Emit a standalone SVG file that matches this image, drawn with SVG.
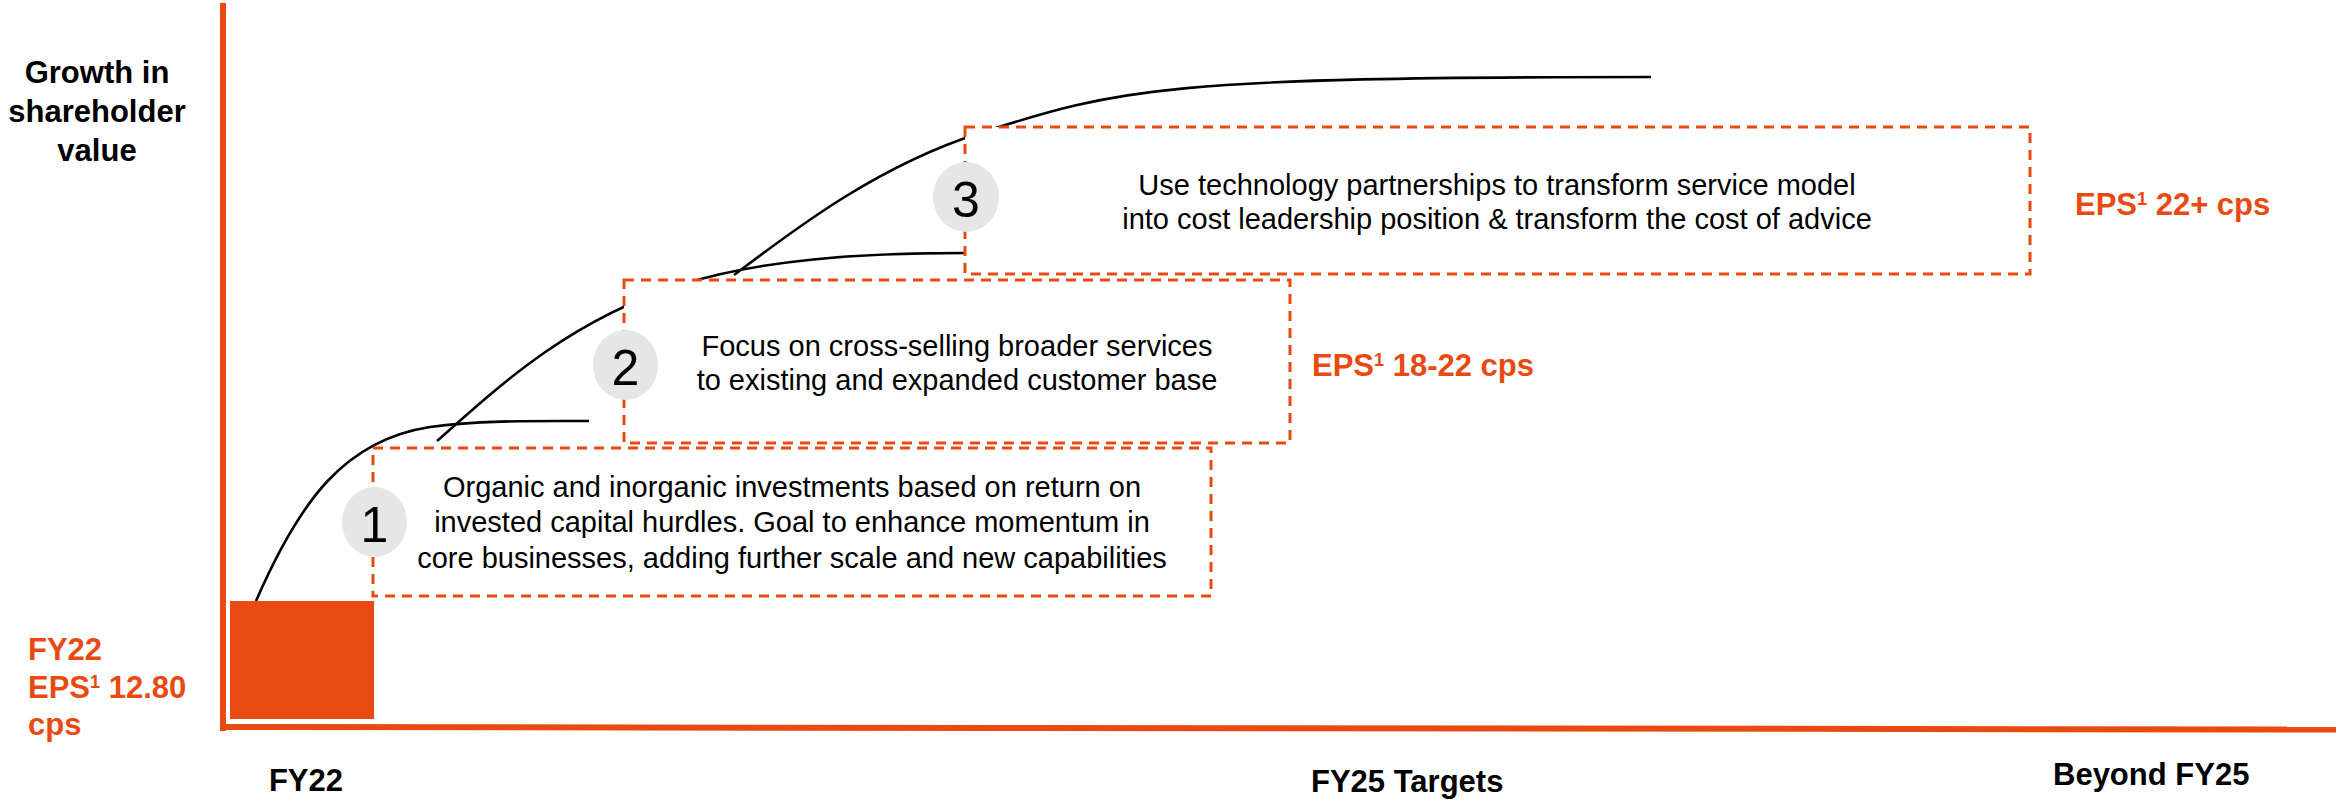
<svg xmlns="http://www.w3.org/2000/svg" width="2336" height="803" viewBox="0 0 2336 803">
  <style>
    .axis { stroke: #E84A12; stroke-width: 6; fill: none; }
    .curve { stroke: #000; stroke-width: 2.6; fill: none; stroke-linecap: butt; }
    .box { fill: #fff; stroke: #E84A12; stroke-width: 3; stroke-dasharray: 10 7; }
    .badge { fill: #E6E6E6; }
    .num { font-family: "Liberation Sans", Arial, sans-serif; font-size: 50px; fill: #000; text-anchor: middle; }
    .body { font-family: "Liberation Sans", Arial, sans-serif; font-size: 29px; fill: #000; text-anchor: middle; }
    .lbl { font-family: "Liberation Sans", Arial, sans-serif; font-size: 31px; font-weight: bold; fill: #000; }
    .eps { font-family: "Liberation Sans", Arial, sans-serif; font-size: 31px; font-weight: bold; fill: #E84A12; }
  </style>

  <rect width="2336" height="803" fill="#fff"/>

  <!-- axes -->
  <g id="axes">
    <line class="axis" x1="223" y1="3" x2="223" y2="731"/>
    <line class="axis" x1="220" y1="727" x2="2336" y2="729.5"/>
  </g>

  <!-- growth curves (drawn beneath the boxes) -->
  <g id="connectors">
    <path class="curve" d="M256,601 C300,500 345,440 430,427 C480,420 540,421 589,421"/>
    <path class="curve" d="M437,441 C500,385 570,320 680,285 C760,259.5 860,253 966,253"/>
    <path class="curve" d="M734,275 C800,225 880,165 980,133 C1120,88 1168,77 1651,77"/>
  </g>

  <!-- starting point -->
  <g id="fy22-base">
    <rect x="230" y="601" width="144" height="118" fill="#E84A12"/>
  </g>

  <!-- axis labels -->
  <g id="y-label">
    <text class="lbl" text-anchor="middle" x="97" y="83">Growth in</text>
    <text class="lbl" text-anchor="middle" x="97" y="122">shareholder</text>
    <text class="lbl" text-anchor="middle" x="97" y="161">value</text>
  </g>

  <g id="fy22-eps">
    <text class="eps" x="28" y="660">FY22</text>
    <text class="eps" x="28" y="698">EPS<tspan font-size="18" dy="-10">1</tspan><tspan dy="10"> 12.80</tspan></text>
    <text class="eps" x="28" y="735">cps</text>
  </g>

  <g id="x-labels">
    <text class="lbl" x="306" y="791" text-anchor="middle">FY22</text>
    <text class="lbl" x="1311" y="792">FY25 Targets</text>
    <text class="lbl" x="2053" y="785">Beyond FY25</text>
  </g>

  <!-- step 1 -->
  <g id="step1">
    <rect class="box" x="373" y="448" width="838" height="148"/>
    <ellipse class="badge" cx="374.5" cy="522" rx="32.5" ry="35"/>
    <text class="num" x="374.5" y="542">1</text>
    <text class="body" x="792" y="497">Organic and inorganic investments based on return on</text>
    <text class="body" x="792" y="532">invested capital hurdles. Goal to enhance momentum in</text>
    <text class="body" x="792" y="568">core businesses, adding further scale and new capabilities</text>
  </g>

  <!-- step 2 -->
  <g id="step2">
    <rect class="box" x="624" y="280" width="666" height="163"/>
    <ellipse class="badge" cx="625.5" cy="365" rx="32.5" ry="35"/>
    <text class="num" x="625.5" y="385">2</text>
    <text class="body" x="957" y="356">Focus on cross-selling broader services</text>
    <text class="body" x="957" y="390">to existing and expanded customer base</text>
    <text class="eps" x="1312" y="376">EPS<tspan font-size="18" dy="-10">1</tspan><tspan dy="10"> 18-22 cps</tspan></text>
  </g>

  <!-- step 3 -->
  <g id="step3">
    <rect class="box" x="965" y="127" width="1065" height="147"/>
    <ellipse class="badge" cx="966" cy="197" rx="33" ry="35"/>
    <text class="num" x="966" y="217">3</text>
    <text class="body" x="1497" y="195">Use technology partnerships to transform service model</text>
    <text class="body" x="1497" y="229">into cost leadership position &amp; transform the cost of advice</text>
    <text class="eps" x="2075" y="215">EPS<tspan font-size="18" dy="-10">1</tspan><tspan dy="10"> 22+ cps</tspan></text>
  </g>
</svg>
